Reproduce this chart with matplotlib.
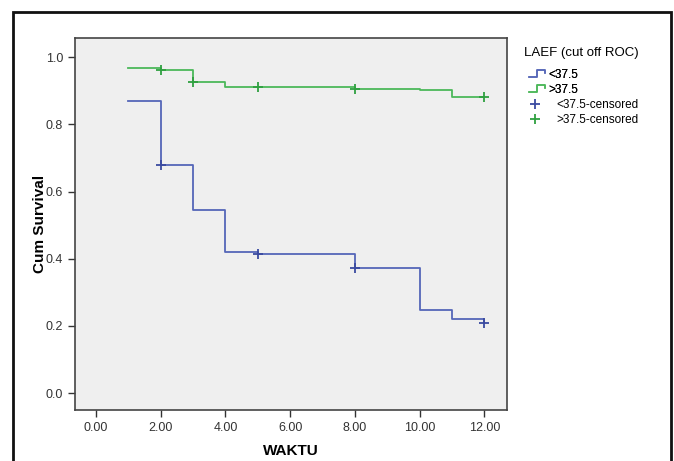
import matplotlib
matplotlib.use("Agg")
import matplotlib.pyplot as plt
from matplotlib.lines import Line2D
from matplotlib.legend_handler import HandlerBase
from matplotlib.patches import Rectangle

plt.rcParams['font.family'] = ['Liberation Sans', 'DejaVu Sans']

# Data
blue_times = [1, 2, 3, 4, 5, 8, 10, 11, 12]
blue_surv = [0.870, 0.680, 0.545, 0.420, 0.414, 0.373, 0.247, 0.221, 0.209]
blue_cens_t = [2, 5, 8, 12]
blue_cens_s = [0.680, 0.414, 0.373, 0.209]

green_times = [1, 2, 3, 4, 8, 10, 11, 12]
green_surv = [0.968, 0.963, 0.925, 0.912, 0.906, 0.902, 0.882, 0.882]
green_cens_t = [2, 3, 5, 8, 12]
green_cens_s = [0.963, 0.925, 0.912, 0.906, 0.882]

xticks = [0, 2, 4, 6, 8, 10, 12]
yticks = [0.0, 0.2, 0.4, 0.6, 0.8, 1.0]
labels = ['<37.5', '>37.5', '<37.5-censored', '>37.5-censored']
legend_title = 'LAEF (cut off ROC)'

BLUE = '#5566b8'
GREEN = '#4cb85a'

W, H = 674, 461
fig = plt.figure(figsize=(W/100, H/100), dpi=100)
ax = fig.add_axes([75/W, 1-410/H, (507-75)/W, (410-38)/H])
ax.set_facecolor('#efefef')

l1, = ax.step(blue_times, blue_surv, where='post', color=BLUE, lw=1.3)
l2, = ax.step(green_times, green_surv, where='post', color=GREEN, lw=1.3)
c1, = ax.plot(blue_cens_t, blue_cens_s, ls='none', marker='+', ms=7, mew=1.3, color='#3a4aa0')
c2, = ax.plot(green_cens_t, green_cens_s, ls='none', marker='+', ms=7, mew=1.3, color='#2fa040')

ax.set_xlim(-0.65, 12.7)
ax.set_ylim(-0.05, 1.057)
ax.set_xticks(xticks)
ax.set_xticklabels([f'{v:.2f}' for v in xticks])
ax.set_yticks(yticks)
ax.set_yticklabels([f'{v:.1f}' for v in yticks])
ax.tick_params(axis='both', direction='out', length=5, width=1, color='#333333',
               labelsize=9, labelcolor='#333333')
for s in ax.spines.values():
    s.set_color('#444444')
    s.set_linewidth(1.2)

ax.set_xlabel('WAKTU', fontsize=11, fontweight='bold')
ax.set_ylabel('Cum Survival', fontsize=11, fontweight='bold')
ax.xaxis.set_label_coords(0.5, (410-444)/372)
ax.yaxis.set_label_coords((46.5-75)/432, 0.5)


class HandlerStep(HandlerBase):
    def create_artists(self, legend, orig_handle, xdescent, ydescent, width, height, fontsize, trans):
        x0 = -xdescent + 0.2*width
        w = 0.75*width
        y0 = -ydescent
        xs = [x0, x0 + 0.5*w, x0 + 0.5*w, x0 + w, x0 + w]
        ys = [y0 + 0.1*height, y0 + 0.1*height, y0 + 0.95*height, y0 + 0.95*height, y0 + 0.55*height]
        ln = Line2D(xs, ys, color=orig_handle.get_color(), lw=1.1, transform=trans)
        return [ln]


fig.text(524/W, 1-53/H, legend_title, fontsize=9.5, ha='left', va='center')

leg1 = fig.legend([l1, l2], labels[:2], loc='upper left',
                  bbox_to_anchor=(519/W, 1-63/H), frameon=False, borderpad=0,
                  fontsize=8.5, handlelength=1.78, handletextpad=0.2, labelspacing=0.25,
                  handler_map={l1: HandlerStep(), l2: HandlerStep()})
fig.add_artist(leg1)

leg2 = fig.legend([c1, c2], labels[2:], loc='upper left',
                  bbox_to_anchor=(518/W, 1-93/H), frameon=False, borderpad=0,
                  fontsize=8.5, handlelength=1.86, handletextpad=0.93, labelspacing=0.25)

fig.patches.append(Rectangle((13/W, -0.1), (671-13)/W, 1.1 - 12/H,
                             transform=fig.transFigure, fill=False, edgecolor='#111111', lw=2))

fig.savefig('out.png', dpi=100)
